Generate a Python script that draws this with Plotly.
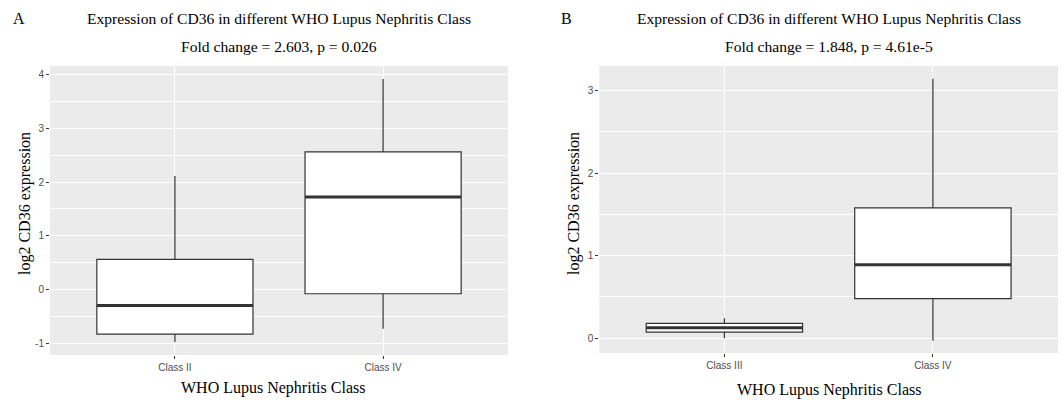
import plotly.graph_objects as go

# Panel A data
a_classes = ["Class II", "Class IV"]
a_lower = [-0.98, -0.73]
a_q1 = [-0.83, -0.08]
a_median = [-0.30, 1.72]
a_q3 = [0.56, 2.56]
a_upper = [2.11, 3.92]
a_yticks = [-1, 0, 1, 2, 3, 4]
a_yticklabels = ["-1", "0", "1", "2", "3", "4"]

# Panel B data
b_classes = ["Class III", "Class IV"]
b_lower = [0.0, -0.03]
b_q1 = [0.073, 0.48]
b_median = [0.125, 0.89]
b_q3 = [0.18, 1.58]
b_upper = [0.24, 3.145]
b_yticks = [0, 1, 2, 3]
b_yticklabels = ["0", "1", "2", "3"]

BOXW = 0.75
LINE = "#333333"
SERIF = "Liberation Serif, Times New Roman, serif"
SANS = "Liberation Sans, Arial, sans-serif"

fig = go.Figure()

def add_panel(classes, lo, q1, med, q3, up, xa, ya):
    pos = list(range(1, len(classes) + 1))
    fig.add_trace(go.Box(
        x=pos, q1=q1, median=med, q3=q3, lowerfence=lo, upperfence=up,
        width=BOXW, whiskerwidth=0, fillcolor="white",
        line=dict(color=LINE, width=1.2), boxpoints=False,
        xaxis=xa, yaxis=ya, showlegend=False, hoverinfo="skip"))
    for p, m in zip(pos, med):
        fig.add_trace(go.Scatter(
            x=[p - BOXW / 2, p + BOXW / 2], y=[m, m], mode="lines",
            line=dict(color=LINE, width=3), xaxis=xa, yaxis=ya,
            showlegend=False, hoverinfo="skip"))

add_panel(a_classes, a_lower, a_q1, a_median, a_q3, a_upper, "x", "y")
add_panel(b_classes, b_lower, b_q1, b_median, b_q3, b_upper, "x2", "y2")

W, H = 1061, 400

def xax(domain, ticks, anchor):
    return dict(domain=domain, range=[0.4, 2.6], tickvals=[1, 2], ticktext=ticks,
                showgrid=True, gridcolor="white", gridwidth=1.3, zeroline=False,
                ticks="outside", ticklen=3, tickcolor=LINE, tickwidth=1,
                tickfont=dict(family=SANS, size=10, color="#4D4D4D"),
                showline=False, anchor=anchor, fixedrange=True)

def yax(domain, rng, tv, tt, anchor):
    return dict(domain=domain, range=rng, tickvals=tv, ticktext=tt,
                showgrid=True, gridcolor="white", gridwidth=1.3, zeroline=False,
                minor=dict(dtick=0.5, tick0=0, showgrid=True, gridcolor="white", gridwidth=0.6, ticks=""),
                ticks="outside", ticklen=3, tickcolor=LINE, tickwidth=1,
                tickfont=dict(family=SANS, size=10, color="#4D4D4D"),
                showline=False, anchor=anchor, fixedrange=True)

fig.update_layout(
    width=W, height=H, margin=dict(l=0, r=0, t=0, b=0),
    paper_bgcolor="white", plot_bgcolor="#EBEBEB",
    xaxis=xax([50 / W, 508 / W], a_classes, "y"),
    yaxis=yax([45 / H, 334 / H], [-1.22, 4.16], a_yticks, a_yticklabels, "x"),
    xaxis2=xax([599.3 / W, 1058 / W], b_classes, "y2"),
    yaxis2=yax([47 / H, 334 / H], [-0.18, 3.30], b_yticks, b_yticklabels, "x2"),
)

def txt(x, y, s, size, angle=0):
    fig.add_annotation(x=x / W, y=1 - y / H, xref="paper", yref="paper", text=s,
                       showarrow=False, font=dict(family=SERIF, size=size, color="black"),
                       textangle=angle, xanchor="center", yanchor="middle")

txt(19, 18, "A", 16)
txt(566, 18, "B", 16)
title = "Expression of CD36 in different WHO Lupus Nephritis Class"
txt(279, 18, title, 15.6)
txt(279, 46, "Fold change = 2.603, p = 0.026", 15.6)
txt(829, 18, title, 15.6)
txt(829, 46, "Fold change = 1.848, p = 4.61e-5", 15.6)
txt(273, 388, "WHO Lupus Nephritis Class", 16)
txt(829, 390, "WHO Lupus Nephritis Class", 16)
txt(25, 204, "log2 CD36 expression", 16, -90)
txt(574, 204, "log2 CD36 expression", 16, -90)

fig.write_html("out.html")
